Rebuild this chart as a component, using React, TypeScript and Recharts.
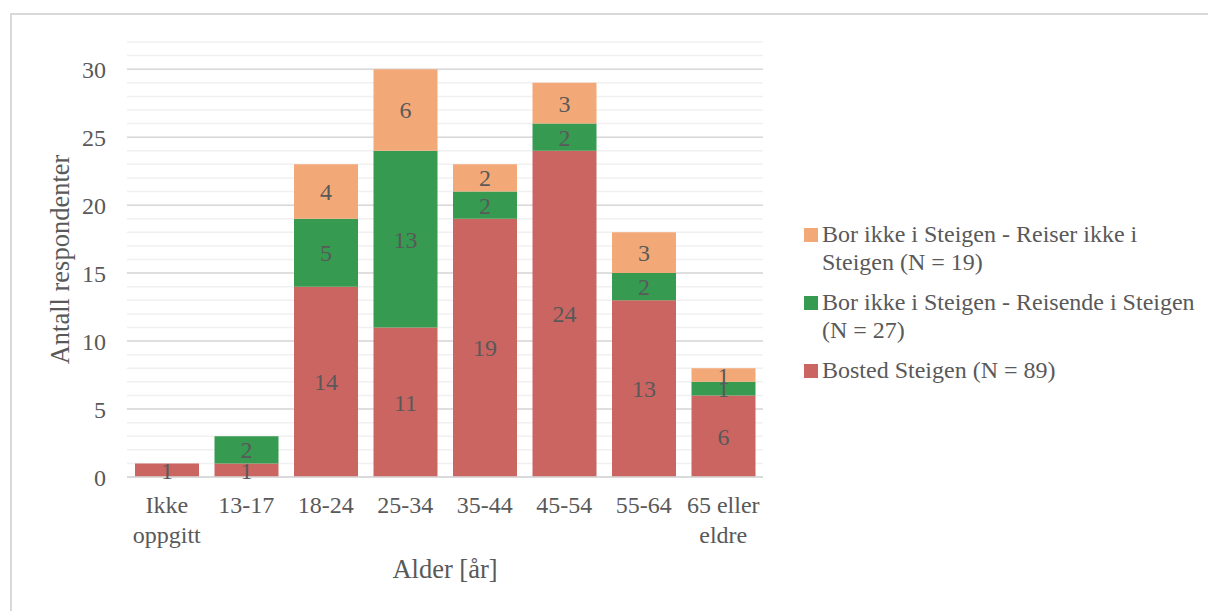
import { Bar, BarChart, CartesianGrid, LabelList, Legend, XAxis, YAxis } from "recharts";

const FONT = '"Liberation Serif", "Times New Roman", serif';
const INK = "#595959";

const ageGroups = ["Ikke oppgitt", "13-17", "18-24", "25-34", "35-44", "45-54", "55-64", "65 eller eldre"];
const bosted = [1, 1, 14, 11, 19, 24, 13, 6];
const reisende = [0, 2, 5, 13, 2, 2, 2, 1];
const reiserIkke = [0, 0, 4, 6, 2, 3, 3, 1];
const yTicks = [0, 5, 10, 15, 20, 25, 30];
const yMax = 32;

const series = [
  { key: "bosted", name: "Bosted Steigen (N = 89)", color: "#CA6562" },
  { key: "reisende", name: "Bor ikke i Steigen - Reisende i Steigen (N = 27)", color: "#369A51" },
  { key: "reiserIkke", name: "Bor ikke i Steigen - Reiser ikke i Steigen (N = 19)", color: "#F3A977" },
];

const data = ageGroups.map((age, i) => ({
  age,
  bosted: bosted[i],
  reisende: reisende[i],
  reiserIkke: reiserIkke[i],
}));

const minorValues = Array.from({ length: yMax + 1 }, (_, i) => i);

// grid lines at every whole count, placed through the y scale
const gridAt = (values: number[]) => (props: any) => {
  const { yAxis, offset } = props;
  if (yAxis && typeof yAxis.scale === "function") {
    return values.map((v) => yAxis.scale(v));
  }
  return values.map((v) => offset.top + offset.height * (1 - v / yMax));
};

// greedy word wrap, at most 8 characters on a line
const wrapWords = (label: string, maxChars = 8) => {
  const lines: string[] = [];
  for (const word of label.split(" ")) {
    const last = lines[lines.length - 1];
    if (last !== undefined && (last + " " + word).length <= maxChars) {
      lines[lines.length - 1] = last + " " + word;
    } else {
      lines.push(word);
    }
  }
  return lines;
};

const CategoryTick = (props: any) => {
  const { x, y, payload } = props;
  const lines = wrapWords(String(payload.value));
  return (
    <text x={x} y={y} textAnchor="middle" fill={INK} fontSize={24} fontFamily={FONT}>
      {lines.map((line, i) => (
        <tspan key={i} x={x} dy={i === 0 ? 17 : 30}>
          {line}
        </tspan>
      ))}
    </text>
  );
};

const YTitle = (props: any) => {
  const { viewBox } = props;
  const cx = viewBox.x + 48;
  const cy = viewBox.y + viewBox.height / 2;
  return (
    <text
      x={cx}
      y={cy}
      transform={`rotate(-90, ${cx}, ${cy})`}
      textAnchor="middle"
      dominantBaseline="central"
      fill={INK}
      fontSize={26.5}
      fontFamily={FONT}
    >
      Antall respondenter
    </text>
  );
};

const XTitle = (props: any) => {
  const { viewBox } = props;
  return (
    <text
      x={viewBox.x + viewBox.width / 2}
      y={viewBox.y + 101}
      textAnchor="middle"
      fill={INK}
      fontSize={26.5}
      fontFamily={FONT}
    >
      Alder [år]
    </text>
  );
};

const LegendBox = () => (
  <div style={{ fontFamily: FONT, fontSize: 24, lineHeight: "28px", color: INK }}>
    {[...series].reverse().map((s) => (
      <div key={s.key} style={{ display: "flex", alignItems: "flex-start", marginBottom: 12 }}>
        <span
          style={{
            width: 14,
            height: 14,
            background: s.color,
            marginTop: 8,
            marginRight: 4,
            flex: "none",
          }}
        />
        <span style={{ width: 380 }}>{s.name}</span>
      </div>
    ))}
  </div>
);

const hideZero = (v: any) => (Number(v) ? v : "");

export default function App() {
  return (
    <div
      style={{
        position: "absolute",
        left: 10,
        top: 13,
        width: 1198,
        height: 598,
        boxSizing: "border-box",
        borderLeft: "2px solid #d9d9d9",
        borderTop: "2px solid #d9d9d9",
        background: "#fff",
      }}
    >
      <BarChart
        width={1196}
        height={596}
        data={data}
        margin={{ top: 27, right: 445, bottom: 14, left: 0 }}
      >
        <CartesianGrid
          vertical={false}
          stroke="#f0f0f0"
          strokeWidth={1.5}
          horizontalCoordinatesGenerator={gridAt(minorValues)}
        />
        <CartesianGrid
          vertical={false}
          stroke="#d9d9d9"
          strokeWidth={1.5}
          horizontalCoordinatesGenerator={gridAt(yTicks)}
        />
        <XAxis
          dataKey="age"
          height={120}
          interval={0}
          tickLine={false}
          tickSize={0}
          tickMargin={19}
          axisLine={{ stroke: "#d9d9d9", strokeWidth: 1.5 }}
          tick={<CategoryTick />}
          label={<XTitle />}
        />
        <YAxis
          width={115}
          domain={[0, yMax]}
          ticks={yTicks}
          axisLine={false}
          tickLine={false}
          tickSize={0}
          tickMargin={21}
          tick={{ fill: INK, fontSize: 24, fontFamily: FONT }}
          label={<YTitle />}
        />
        <Legend
          layout="vertical"
          align="center"
          verticalAlign="middle"
          wrapperStyle={{ left: 792, top: 205, width: 400 }}
          content={<LegendBox />}
        />
        {series.map((s) => (
          <Bar
            key={s.key}
            dataKey={s.key}
            name={s.name}
            stackId="alder"
            fill={s.color}
            barSize={64}
            isAnimationActive={false}
          >
            <LabelList
              dataKey={s.key}
              position="center"
              formatter={hideZero}
              fill={INK}
              fontSize={24}
              fontFamily={FONT}
            />
          </Bar>
        ))}
      </BarChart>
    </div>
  );
}
